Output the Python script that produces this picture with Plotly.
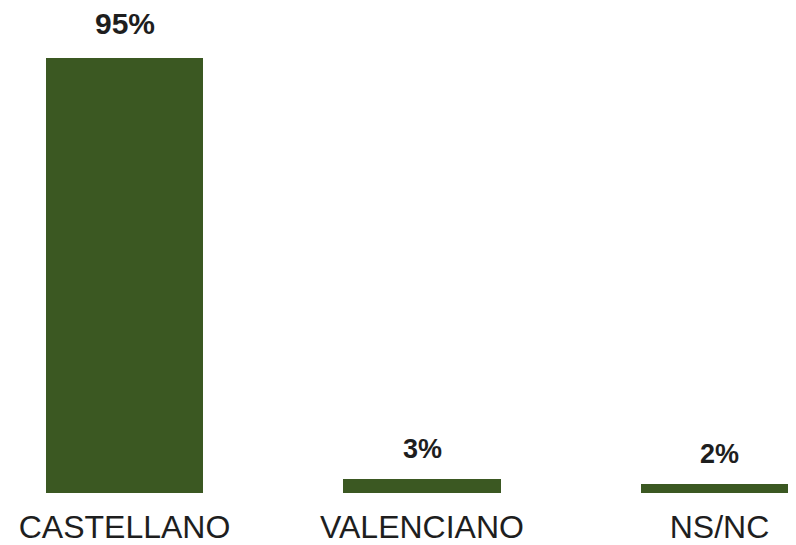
import plotly.graph_objects as go

categories = ["CASTELLANO", "VALENCIANO", "NS/NC"]
values = [95, 3, 2]
value_labels = ["95%", "3%", "2%"]
label_sizes = [30, 27, 27]
label_shifts = [16, 13, 13]

bar_color = "#3b5822"
font_family = "Liberation Sans, Arial, sans-serif"

fig = go.Figure()
fig.add_trace(go.Bar(
    x=categories,
    y=values,
    marker=dict(color=bar_color, line=dict(width=0)),
    width=0.53,
    hoverinfo="skip",
))

for c, v, t, s, sh in zip(categories, values, value_labels, label_sizes, label_shifts):
    fig.add_annotation(
        x=c, y=v, text="<b>%s</b>" % t, showarrow=False,
        yanchor="bottom", yshift=sh,
        font=dict(family=font_family, size=s, color="#1e1e1e"),
    )

# page body adds an 8px offset; the last bar runs off the right edge
fig.update_layout(
    width=796, height=537,
    margin=dict(l=0, r=0, t=27, b=52),
    paper_bgcolor="white", plot_bgcolor="white",
    showlegend=False,
    bargap=0,
    xaxis=dict(
        range=[-0.3916, 2.284],
        automargin=False,
        showgrid=False, zeroline=False, showline=False,
        ticks="", ticklabelstandoff=12,
        tickfont=dict(family=font_family, size=32, color="#1e1e1e"),
    ),
    yaxis=dict(
        range=[0, 100], visible=False, showgrid=False, zeroline=False,
        automargin=False,
    ),
)

fig.write_html("out.html")
